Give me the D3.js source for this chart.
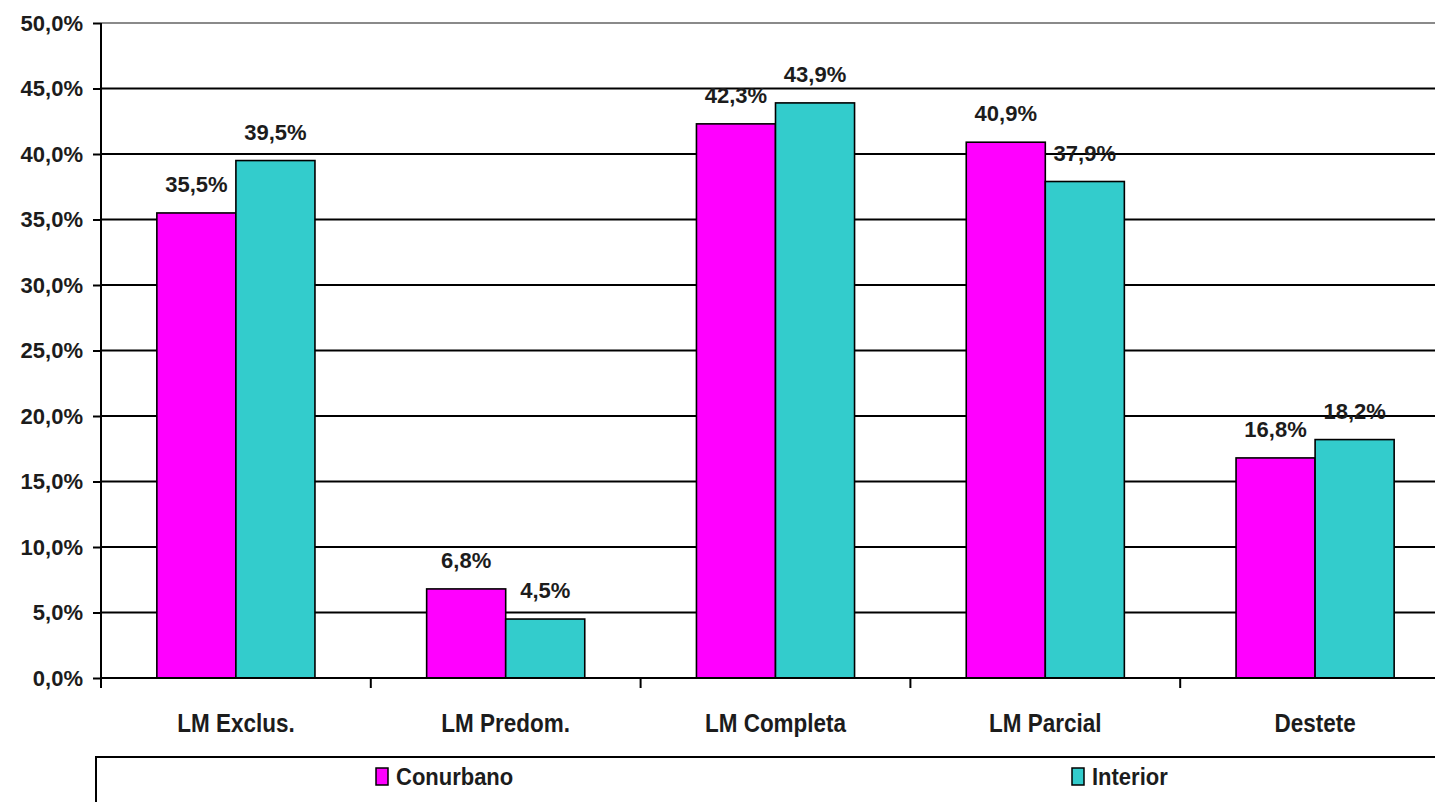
<!DOCTYPE html>
<html>
<head>
<meta charset="utf-8">
<script src="https://cdn.jsdelivr.net/npm/d3@7"></script>
<style>
  html, body { margin: 0; padding: 0; background: #fff; }
  svg { display: block; }
  text { font-family: "Liberation Sans", Arial, sans-serif; fill: #1c1c1c; }
</style>
</head>
<body>
<svg id="chart" width="1435" height="802"></svg>
<script>
const categories = ["LM Exclus.", "LM Predom.", "LM Completa", "LM Parcial", "Destete"];
const seriesNames = ["Conurbano", "Interior"];
const conurbano = [35.5, 6.8, 42.3, 40.9, 16.8];
const interior = [39.5, 4.5, 43.9, 37.9, 18.2];
const yTicks = [0, 5, 10, 15, 20, 25, 30, 35, 40, 45, 50];
const colors = ["#FF00FF", "#33CCCC"];

(function () {
const W = 1435, H = 802;
const pLeft = 101, pRight = 1450, pTop = 23, pBottom = 678;

const svg = d3.select("#chart");
const locale = d3.formatLocale({ decimal: ",", thousands: ".", grouping: [3], currency: ["", ""] });
const fmt = d => locale.format(".1f")(d) + "%";

const x0 = d3.scaleBand().domain(categories).range([pLeft, pRight]).padding(0);
const bw = x0.bandwidth();
const x1 = d3.scaleBand().domain(seriesNames).range([bw * 0.207, bw * 0.793]).padding(0);
const y = d3.scaleLinear().domain([0, 50]).range([pBottom, pTop]);

// gridlines
svg.append("g").selectAll("line").data(yTicks.filter(t => t > 0)).join("line")
  .attr("x1", pLeft).attr("x2", W)
  .attr("y1", d => y(d)).attr("y2", d => y(d))
  .attr("stroke", d => d === 50 ? "#8a8a8a" : "#000")
  .attr("stroke-width", 2);

// y axis
const yAxis = d3.axisLeft(y).tickValues(yTicks).tickFormat(fmt).tickSize(8).tickPadding(10);
const gy = svg.append("g").attr("transform", `translate(${pLeft},0)`).call(yAxis);
gy.select(".domain").attr("stroke", "#000").attr("stroke-width", 2).attr("d", `M0,${pTop}V${pBottom + 10}`);
gy.selectAll(".tick line").attr("stroke", "#000").attr("stroke-width", 2);
gy.selectAll(".tick text").attr("font-size", 22).attr("font-weight", "bold")
  .attr("font-family", "'Liberation Sans', Arial, sans-serif").attr("fill", "#1c1c1c")
  .attr("x", -18);

// data
const data = categories.map((c, i) => ({ cat: c, vals: [conurbano[i], interior[i]] }));

const groups = svg.append("g").selectAll("g").data(data).join("g")
  .attr("transform", d => `translate(${x0(d.cat)},0)`);

groups.selectAll("rect").data(d => d.vals.map((v, j) => ({ s: seriesNames[j], v, j }))).join("rect")
  .attr("x", d => x1(d.s)).attr("width", x1.bandwidth())
  .attr("y", d => y(d.v)).attr("height", d => y(0) - y(d.v))
  .attr("fill", d => colors[d.j])
  .attr("stroke", "#000").attr("stroke-width", 1.6);

groups.selectAll("text.lbl").data(d => d.vals.map((v, j) => ({ s: seriesNames[j], v, j }))).join("text")
  .attr("class", "lbl")
  .attr("x", d => x1(d.s) + x1.bandwidth() / 2)
  .attr("y", d => y(d.v) - 21)
  .attr("text-anchor", "middle")
  .attr("font-size", 22).attr("font-weight", "bold")
  .text(d => fmt(d.v));

// x axis line and ticks
svg.append("line").attr("x1", pLeft).attr("x2", W).attr("y1", pBottom).attr("y2", pBottom)
  .attr("stroke", "#000").attr("stroke-width", 2);
const bounds = categories.map(c => x0(c));
svg.append("g").selectAll("line").data(bounds).join("line")
  .attr("x1", d => d).attr("x2", d => d).attr("y1", pBottom).attr("y2", pBottom + 10)
  .attr("stroke", "#000").attr("stroke-width", 2);

// category labels
svg.append("g").selectAll("text").data(categories).join("text")
  .attr("transform", d => `translate(${x0(d) + bw / 2},732) scale(1,1.15)`)
  .attr("text-anchor", "middle")
  .attr("font-size", 22.5).attr("font-weight", "bold")
  .text(d => d);

// legend box
svg.append("rect").attr("x", 96).attr("y", 757).attr("width", W).attr("height", 100)
  .attr("fill", "#fff").attr("stroke", "#000").attr("stroke-width", 2);
const legX = [376, 1072];
const leg = svg.append("g").selectAll("g").data(seriesNames).join("g")
  .attr("transform", (d, i) => `translate(${legX[i]},768)`);
leg.append("rect").attr("width", 12).attr("height", 17)
  .attr("fill", (d, i) => colors[i]).attr("stroke", "#000").attr("stroke-width", 1.5);
leg.append("text").attr("transform", "translate(20,17) scale(1,1.1)")
  .attr("font-size", 22).attr("font-weight", "bold").text(d => d);
})();
</script>
</body>
</html>
